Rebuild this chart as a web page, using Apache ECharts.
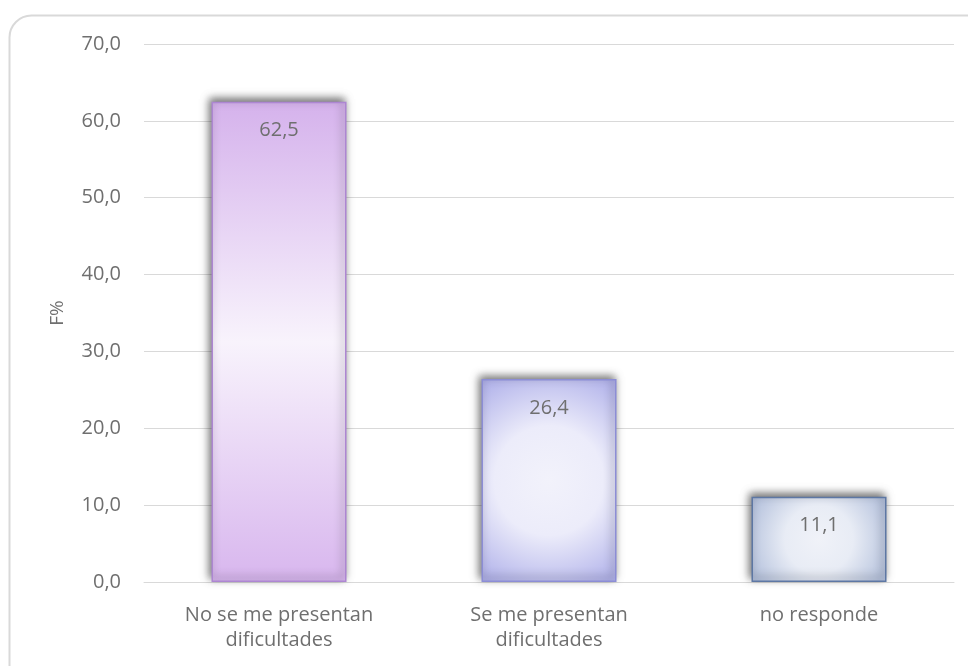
<!DOCTYPE html>
<html><head><meta charset="utf-8">
<script src="https://cdn.jsdelivr.net/npm/echarts@6/dist/echarts.min.js"></script>
<style>html,body{margin:0;padding:0;background:#fff}#c{width:968px;height:666px}</style>
</head><body><div id="c"></div>
<script>
const categories = ['No se me presentan\ndificultades', 'Se me presentan\ndificultades', 'no responde'];
const values = [62.5, 26.4, 11.1];
const yTicks = [0, 10, 20, 30, 40, 50, 60, 70];
const yName = 'F%';

const styles = [
  { color: { type: 'linear', x: 0, y: 0, x2: 0, y2: 1, colorStops: [
      { offset: 0, color: '#d5b2ec' }, { offset: 0.5, color: '#f8f3fc' }, { offset: 1, color: '#d8b6ee' }] },
    borderColor: '#ad86d2' },
  { color: { type: 'radial', x: 0.5, y: 0.5, r: 0.9, colorStops: [
      { offset: 0, color: '#f2f2fb' }, { offset: 0.45, color: '#ececfa' }, { offset: 1, color: '#adaee9' }] },
    borderColor: '#8c8dd6' },
  { color: { type: 'radial', x: 0.5, y: 0.5, r: 1.0, colorStops: [
      { offset: 0, color: '#f0f2f8' }, { offset: 0.4, color: '#e8ecf5' }, { offset: 1, color: '#a7b6d6' }] },
    borderColor: '#5d77a4' }
];

const chart = echarts.init(document.getElementById('c'), null, { renderer: 'canvas' });
const font = '"Open Sans", "Noto Sans", sans-serif';
const txt = '#6f6f6f';
chart.setOption({
  animation: false,
  backgroundColor: '#ffffff',
  textStyle: { fontFamily: font },
  graphic: [{
    type: 'rect', left: 7, top: 13, z: -1,
    shape: { width: 985, height: 690, r: 22 },
    style: { fill: 'none', stroke: '#d9d9d9', lineWidth: 2 }
  }],
  grid: { left: 144, right: 14, top: 44, bottom: 84 },
  xAxis: {
    type: 'category', data: categories,
    axisLine: { show: true, lineStyle: { color: '#d9d9d9', width: 1 } },
    axisTick: { show: false },
    axisLabel: { color: txt, fontSize: 20, lineHeight: 25, margin: 21, fontFamily: font }
  },
  yAxis: {
    type: 'value', min: 0, max: 70, interval: 10,
    name: yName, nameLocation: 'middle', nameGap: 77, nameRotate: 90,
    nameTextStyle: { color: txt, fontSize: 19, fontFamily: font },
    axisLine: { show: false }, axisTick: { show: false },
    splitLine: { lineStyle: { color: '#d9d9d9', width: 1 } },
    axisLabel: { color: txt, fontSize: 20, margin: 23, fontFamily: font,
      formatter: v => yTicks.includes(v) ? v.toFixed(1).replace('.', ',') : '' }
  },
  series: [{
    type: 'bar', barWidth: '50%',
    data: values.map((v, i) => ({ value: v, itemStyle: Object.assign({
      borderWidth: 1.5, shadowColor: 'rgba(0,0,0,0.55)', shadowBlur: 8, shadowOffsetX: -2, shadowOffsetY: -3
    }, styles[i]) })),
    label: { show: true, position: 'insideTop', distance: 19, color: txt, fontSize: 20, fontFamily: font,
      formatter: p => p.value.toFixed(1).replace('.', ',') }
  }]
});
</script></body></html>
